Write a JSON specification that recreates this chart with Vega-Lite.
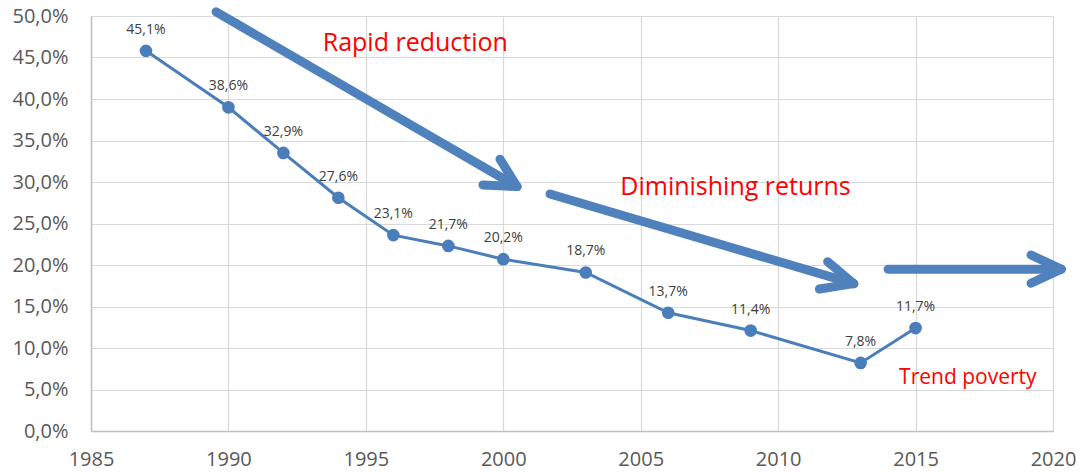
{
  "$schema": "https://vega.github.io/schema/vega-lite/v6.json",
  "width": 962,
  "height": 415,
  "autosize": {"type": "none"},
  "padding": {"left": 91, "top": 16, "right": 29, "bottom": 41},
  "background": "white",
  "config": {
    "view": {"stroke": null},
    "font": "Open Sans",
    "axis": {"gridColor": "#d9d9d9", "gridWidth": 1.2, "domainColor": "#bfbfbf", "domainWidth": 1.5, "ticks": false, "labelColor": "#595959", "labelFont": "Open Sans", "labelFontSize": 20, "title": null}
  },
  "datasets": {
    "poverty": [
      {"year": 1987, "value": 45.8, "label": "45,1%"},
      {"year": 1990, "value": 39.0, "label": "38,6%"},
      {"year": 1992, "value": 33.5, "label": "32,9%"},
      {"year": 1994, "value": 28.1, "label": "27,6%"},
      {"year": 1996, "value": 23.6, "label": "23,1%"},
      {"year": 1998, "value": 22.3, "label": "21,7%"},
      {"year": 2000, "value": 20.7, "label": "20,2%"},
      {"year": 2003, "value": 19.1, "label": "18,7%"},
      {"year": 2006, "value": 14.25, "label": "13,7%"},
      {"year": 2009, "value": 12.1, "label": "11,4%"},
      {"year": 2013, "value": 8.2, "label": "7,8%"},
      {"year": 2015, "value": 12.4, "label": "11,7%"}
    ],
    "arrows": [
      {"x": 1989.55, "y": 50.5, "xe": 2000.5, "ye": 29.45},
      {"x": 1999.88, "y": 32.75, "xe": 2000.5, "ye": 29.45},
      {"x": 1999.26, "y": 29.65, "xe": 2000.5, "ye": 29.45},
      {"x": 2001.7, "y": 28.55, "xe": 2012.75, "ye": 17.75},
      {"x": 2011.8, "y": 20.4, "xe": 2012.75, "ye": 17.75},
      {"x": 2011.5, "y": 17.1, "xe": 2012.75, "ye": 17.75},
      {"x": 2014.0, "y": 19.5, "xe": 2020.3, "ye": 19.5},
      {"x": 2019.2, "y": 21.2, "xe": 2020.3, "ye": 19.5},
      {"x": 2019.2, "y": 17.8, "xe": 2020.3, "ye": 19.5}
    ],
    "notes": [
      {"x": 1996.8, "y": 46.75, "text": "Rapid reduction", "kind": "big"},
      {"x": 2008.45, "y": 29.4, "text": "Diminishing returns", "kind": "big"},
      {"x": 2016.9, "y": 6.4, "text": "Trend poverty", "kind": "small"}
    ]
  },
  "layer": [
    {
      "data": {"name": "poverty"},
      "mark": {"type": "line", "color": "#4a7ebb", "strokeWidth": 3},
      "encoding": {
        "x": {"field": "year", "type": "quantitative", "scale": {"domain": [1985, 2020], "nice": false, "zero": false},
          "axis": {"values": [1985, 1990, 1995, 2000, 2005, 2010, 2015, 2020], "format": "d", "labelPadding": 18, "labelFlush": false}},
        "y": {"field": "value", "type": "quantitative", "scale": {"domain": [0, 50], "nice": false},
          "axis": {"values": [0, 5, 10, 15, 20, 25, 30, 35, 40, 45, 50], "labelPadding": 23, "labelExpr": "replace(format(datum.value, '.1f'), '.', ',') + '%'"}}
      }
    },
    {
      "data": {"name": "poverty"},
      "mark": {"type": "point", "filled": true, "color": "#4a7ebb", "size": 160, "opacity": 1},
      "encoding": {
        "x": {"field": "year", "type": "quantitative"},
        "y": {"field": "value", "type": "quantitative"}
      }
    },
    {
      "data": {"name": "poverty"},
      "mark": {"type": "text", "color": "#404040", "fontSize": 14, "dy": -21, "font": "Open Sans"},
      "encoding": {
        "x": {"field": "year", "type": "quantitative"},
        "y": {"field": "value", "type": "quantitative"},
        "text": {"field": "label"}
      }
    },
    {
      "data": {"name": "arrows"},
      "mark": {"type": "rule", "color": "#4f81bd", "strokeWidth": 9, "strokeCap": "round"},
      "encoding": {
        "x": {"field": "x", "type": "quantitative"},
        "y": {"field": "y", "type": "quantitative"},
        "x2": {"field": "xe"},
        "y2": {"field": "ye"}
      }
    },
    {
      "data": {"name": "notes"},
      "transform": [{"filter": "datum.kind == 'big'"}],
      "mark": {"type": "text", "color": "#ff0000", "fontSize": 25, "font": "Open Sans"},
      "encoding": {
        "x": {"field": "x", "type": "quantitative"},
        "y": {"field": "y", "type": "quantitative"},
        "text": {"field": "text"}
      }
    },
    {
      "data": {"name": "notes"},
      "transform": [{"filter": "datum.kind == 'small'"}],
      "mark": {"type": "text", "color": "#ff0000", "fontSize": 21, "font": "Open Sans"},
      "encoding": {
        "x": {"field": "x", "type": "quantitative"},
        "y": {"field": "y", "type": "quantitative"},
        "text": {"field": "text"}
      }
    }
  ]
}
